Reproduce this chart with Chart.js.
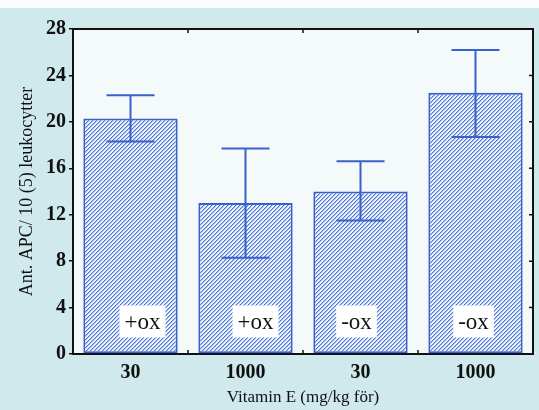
<!DOCTYPE html>
<html>
<head>
<meta charset="utf-8">
<script src="https://cdn.jsdelivr.net/npm/chart.js@4/dist/chart.umd.min.js"></script>
<style>
  html, body { margin: 0; padding: 0; background: #cfe9ec; }
  #wrap { width: 539px; height: 410px; }
</style>
</head>
<body>
<div id="wrap"><canvas id="myChart" width="539" height="410"></canvas></div>
<script>
// data
const categories = ['30', '1000', '30', '1000'];
const means = [20.3, 13.0, 14.0, 22.5];
const errLow = [18.3, 8.3, 11.5, 18.7];
const errHigh = [22.3, 17.7, 16.6, 26.2];
const groupLabels = ['+ox', '+ox', '-ox', '-ox'];
const yTicks = [0, 4, 8, 12, 16, 20, 24, 28];

const blue = 'rgb(58,96,204)';
const serif = "'Liberation Serif', 'Times New Roman', serif";

// diagonal hatch like the scan
function makeHatch(){
    const c = document.createElement('canvas');
    c.width = 8; c.height = 8;
    const g = c.getContext('2d');
    const img = g.createImageData(8, 8);
    for(let y=0; y<8; y++){
        for(let x=0; x<8; x++){
            const k = (x + y) % 4;
            let col = [238, 243, 252];
            if(k == 0) col = [78, 116, 214];
            else if(k == 1) col = [165, 188, 238];
            const i = (y*8 + x)*4;
            img.data[i] = col[0]; img.data[i+1] = col[1]; img.data[i+2] = col[2]; img.data[i+3] = 255;
        }
    }
    g.putImageData(img, 0, 0);
    return g.createPattern(c, 'repeat');
}

const backdrop = {
    id: 'backdrop',
    beforeDraw(chart){
        const {ctx, chartArea: a} = chart;
        ctx.save();
        ctx.fillStyle = '#cfe9ec';
        ctx.fillRect(0, 0, chart.width, chart.height);
        ctx.fillStyle = '#fbfdfd';
        ctx.fillRect(0, 0, chart.width, 8);
        ctx.fillStyle = '#f4f9f9';
        ctx.fillRect(a.left, a.top, a.right - a.left, a.bottom - a.top);
        ctx.restore();
    }
};

const extras = {
    id: 'extras',
    afterDatasetsDraw(chart){
        const {ctx, chartArea: a} = chart;
        const xs = chart.scales.x, ys = chart.scales.y;
        ctx.save();
        // error bars
        ctx.strokeStyle = blue;
        ctx.lineWidth = 2;
        for(let i=0; i<categories.length; i++){
            const x = xs.getPixelForValue(i);
            const yl = ys.getPixelForValue(errLow[i]);
            const yh = ys.getPixelForValue(errHigh[i]);
            ctx.beginPath();
            ctx.moveTo(x, yl); ctx.lineTo(x, yh);
            ctx.moveTo(x - 24, yh); ctx.lineTo(x + 24, yh);
            ctx.moveTo(x - 24, yl); ctx.lineTo(x + 24, yl);
            ctx.stroke();
        }
        // +ox / -ox boxes
        const nudge = [12, 10, -4, -2];
        ctx.font = '23px ' + serif;
        ctx.textAlign = 'center';
        ctx.textBaseline = 'middle';
        for(let i=0; i<groupLabels.length; i++){
            const x = xs.getPixelForValue(i) + nudge[i];
            const y = ys.getPixelForValue(2.8);
            const w = ctx.measureText(groupLabels[i]).width + 10;
            ctx.fillStyle = '#ffffff';
            ctx.fillRect(x - w/2, y - 16, w, 32);
            ctx.fillStyle = '#111';
            ctx.fillText(groupLabels[i], x, y + 1);
        }
        // frame top/right + inner ticks
        ctx.strokeStyle = '#111';
        ctx.lineWidth = 2;
        ctx.beginPath();
        ctx.moveTo(a.left, a.top); ctx.lineTo(a.right, a.top); ctx.lineTo(a.right, a.bottom);
        ctx.stroke();
        ctx.lineWidth = 1.5;
        ctx.beginPath();
        yTicks.forEach(t=>{
            const y = ys.getPixelForValue(t);
            ctx.moveTo(a.right, y); ctx.lineTo(a.right - 4, y);
        });
        for(let i=1; i<categories.length; i++){
            const x = xs.getPixelForValue(i - 0.5);
            ctx.moveTo(x, a.top); ctx.lineTo(x, a.top + 4);
            ctx.moveTo(x, a.bottom); ctx.lineTo(x, a.bottom - 4);
        }
        ctx.stroke();
        ctx.restore();
    }
};

const ctx = document.getElementById('myChart');
const myChart = new Chart(ctx, {
    type: 'bar',
    data: {
        labels: categories,
        datasets: [{
            data: means,
            backgroundColor: makeHatch(),
            borderColor: blue,
            borderWidth: 2,
            borderSkipped: false,
            barPercentage: 0.82,
            categoryPercentage: 1
        }]
    },
    options: {
        responsive: false,
        animation: false,
        layout: { padding: { top: 29, right: 6, left: 0, bottom: 0 } },
        plugins: { legend: { display: false }, tooltip: { enabled: false } },
        scales: {
            x: {
                grid: { display: false },
                border: { display: true, color: '#111', width: 2 },
                ticks: { color: '#111', padding: -1, font: { family: serif, size: 20, weight: 'bold' } },
                title: {
                    display: true, text: 'Vitamin E (mg/kg för)', color: '#111',
                    font: { family: serif, size: 17 }, padding: { top: 0, bottom: 2 }
                },
                afterFit(scale){ scale.height = 56; }
            },
            y: {
                min: 0, max: 28,
                afterBuildTicks(scale){ scale.ticks = yTicks.map(v=>({value: v})); },
                grid: { drawOnChartArea: false, drawTicks: true, tickLength: 4, color: '#111', lineWidth: 1.5 },
                border: { display: true, color: '#111', width: 2 },
                ticks: { color: '#111', padding: 3, font: { family: serif, size: 20, weight: 'bold' } },
                title: {
                    display: true, text: 'Ant. APC/ 10 (5) leukocytter', color: '#111',
                    font: { family: serif, size: 18 }, padding: { top: 16, bottom: 0 }
                },
                afterFit(scale){ scale.width = 73; }
            }
        }
    },
    plugins: [backdrop, extras]
});
</script>
</body>
</html>
